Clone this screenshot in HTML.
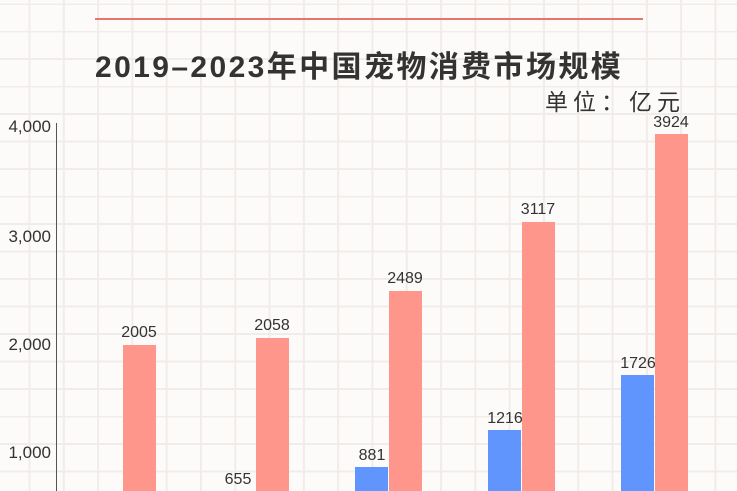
<!DOCTYPE html>
<html><head><meta charset="utf-8"><style>
body{margin:0;width:737px;height:491px;overflow:hidden;background:#fdfbf9;position:relative;font-family:"Liberation Sans","Noto Sans CJK SC",sans-serif}
.g{position:absolute;inset:0;background-image:linear-gradient(to right,#f1ece9 2px,transparent 2px),linear-gradient(to bottom,#f1ece9 2px,transparent 2px);background-size:34.3px 27.5px;background-position:28.5px 3px}
.b{position:absolute;bottom:0;width:33px}
.p{background:#fe968c}.u{background:#6095fe}
.l{position:absolute;font-size:16px;color:#333;width:60px;text-align:center}
.y{position:absolute;font-size:17px;color:#333;right:686px;text-align:right}
</style></head><body>
<div class="g"></div>
<div style="position:absolute;left:95px;top:18px;width:548px;height:2px;background:#e8756a"></div>
<div style="position:absolute;left:95px;top:42px;white-space:nowrap;font-size:30px;font-weight:bold;color:#333;letter-spacing:2.4px">2019–2023年中国宠物消费市场规模</div>
<div style="position:absolute;left:545px;top:83px;font-size:23px;letter-spacing:5px;color:#333;white-space:nowrap">单位：亿元</div>
<div style="position:absolute;left:56px;top:123px;width:1px;height:368px;background:#555"></div>
<div class="y" style="top:117px">4,000</div>
<div class="y" style="top:227px">3,000</div>
<div class="y" style="top:335px">2,000</div>
<div class="y" style="top:443px">1,000</div>
<div class="b p" style="left:123px;top:345px"></div><div class="l" style="left:109px;top:324px">2005</div>
<div class="b p" style="left:256px;top:338px"></div><div class="l" style="left:242px;top:317px">2058</div>
<div class="l" style="left:208px;top:471px">655</div>
<div class="b u" style="left:355px;top:467px"></div><div class="l" style="left:342px;top:447px">881</div>
<div class="b p" style="left:389px;top:291px"></div><div class="l" style="left:375px;top:270px">2489</div>
<div class="b u" style="left:488px;top:430px"></div><div class="l" style="left:475px;top:410px">1216</div>
<div class="b p" style="left:522px;top:222px"></div><div class="l" style="left:508px;top:201px">3117</div>
<div class="b u" style="left:621px;top:375px"></div><div class="l" style="left:608px;top:355px">1726</div>
<div class="b p" style="left:655px;top:134px"></div><div class="l" style="left:641px;top:114px">3924</div>
</body></html>
